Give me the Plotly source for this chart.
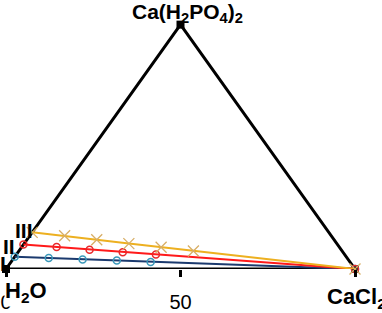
import plotly.graph_objects as go

# Compositions (wt %): CaCl2 and Ca(H2PO4)2, remainder H2O
vertex_names = ["H2O", "CaCl2", "Ca(H2PO4)2"]
tick_vals = [0, 50, 100]
tick_text = ["0", "50", "100"]

cacl2_I = [0, 10, 20, 30, 40, 100]
p_I = [5.0, 4.5, 3.9, 3.5, 2.9, 0]

cacl2_II = [0, 10, 20, 30, 40, 100]
p_II = [10.0, 9.0, 7.9, 6.9, 5.9, 0]

cacl2_III = [0, 10, 20, 30, 40, 50, 100]
p_III = [15.0, 13.6, 12.0, 10.4, 8.9, 7.4, 0]

# triangle vertices in (CaCl2, Ca(H2PO4)2)
tri_c = [0, 100, 0, 0]
tri_p = [0, 0, 100, 0]


def to_xy(c, p):
    return [ci + pi / 2 for ci, pi in zip(c, p)], list(p)


fig = go.Figure()

tx, ty = to_xy(tri_c, tri_p)
fig.add_trace(go.Scatter(x=tx, y=ty, mode="lines+markers",
                         line=dict(color="black", width=3),
                         marker=dict(symbol="square", size=8, color="black"),
                         cliponaxis=False, showlegend=False, hoverinfo="skip"))

series = [
    (cacl2_I, p_I, "#1B3A6E", dict(symbol="circle-open", size=7, color="#3A98B9", line=dict(width=1.5))),
    (cacl2_II, p_II, "#FF1A1A", dict(symbol="circle-open", size=7, color="#E8282A", line=dict(width=1.5))),
    (cacl2_III, p_III, "#EDB020", dict(symbol="x-thin-open", size=11, color="#D8AE66", line=dict(width=1.3))),
]
for c, p, lc, mk in series:
    x, y = to_xy(c, p)
    fig.add_trace(go.Scatter(x=x, y=y, mode="lines+markers",
                             line=dict(color=lc, width=2),
                             marker=mk, cliponaxis=False, showlegend=False))

FONT = "Liberation Sans, Arial, sans-serif"
ann_font = dict(family=FONT, size=21, color="black")
annotations = [
    dict(x=50, y=100, xref="x", yref="y", text="<b>Ca(H<sub>2</sub>PO<sub>4</sub>)<sub>2</sub></b>",
         showarrow=False, xanchor="center", yanchor="bottom", xshift=7, yshift=-3,
         font=dict(family=FONT, size=21, color="black")),
    dict(x=0, y=0, xref="x", yref="y", text="<b>H<sub>2</sub>O</b>",
         showarrow=False, xanchor="left", yanchor="top", xshift=-2, yshift=-8,
         font=dict(family=FONT, size=22, color="black"),
         bgcolor="white", borderpad=0),
    dict(x=100, y=0, xref="x", yref="y", text="<b>CaCl<sub>2</sub></b>",
         showarrow=False, xanchor="left", yanchor="top", xshift=-29, yshift=-14,
         font=dict(family=FONT, size=22, color="black"),
         bgcolor="white", borderpad=0),
    dict(x=5.16, y=16.1, xref="x", yref="y", text="<b>III</b>", showarrow=False, yshift=-1, font=ann_font),
    dict(x=0.72, y=10.1, xref="x", yref="y", text="<b>II</b>", showarrow=False, yshift=-2, font=ann_font),
    dict(x=-0.86, y=2.8, xref="x", yref="y", text="<b>I</b>", showarrow=False, yshift=-1, font=ann_font),
]

fig.update_layout(
    width=382, height=313,
    margin=dict(l=0, r=0, t=0, b=40),
    paper_bgcolor="white", plot_bgcolor="white",
    annotations=annotations,
    xaxis=dict(range=[-6 / 3.49, 376 / 3.49], tickvals=tick_vals, ticktext=tick_text,
               ticks="outside", ticklen=7, tickwidth=3, tickcolor="black",
               tickfont=dict(family=FONT, size=20, color="black"),
               ticklabelstandoff=8,
               showgrid=False, zeroline=False, showline=False, fixedrange=True),
    yaxis=dict(range=[0, 273 / 2.48], visible=False, showgrid=False, zeroline=False, fixedrange=True),
)

fig.write_html("out.html", config={"displayModeBar": False},
               post_script="document.body.style.margin='0';")
